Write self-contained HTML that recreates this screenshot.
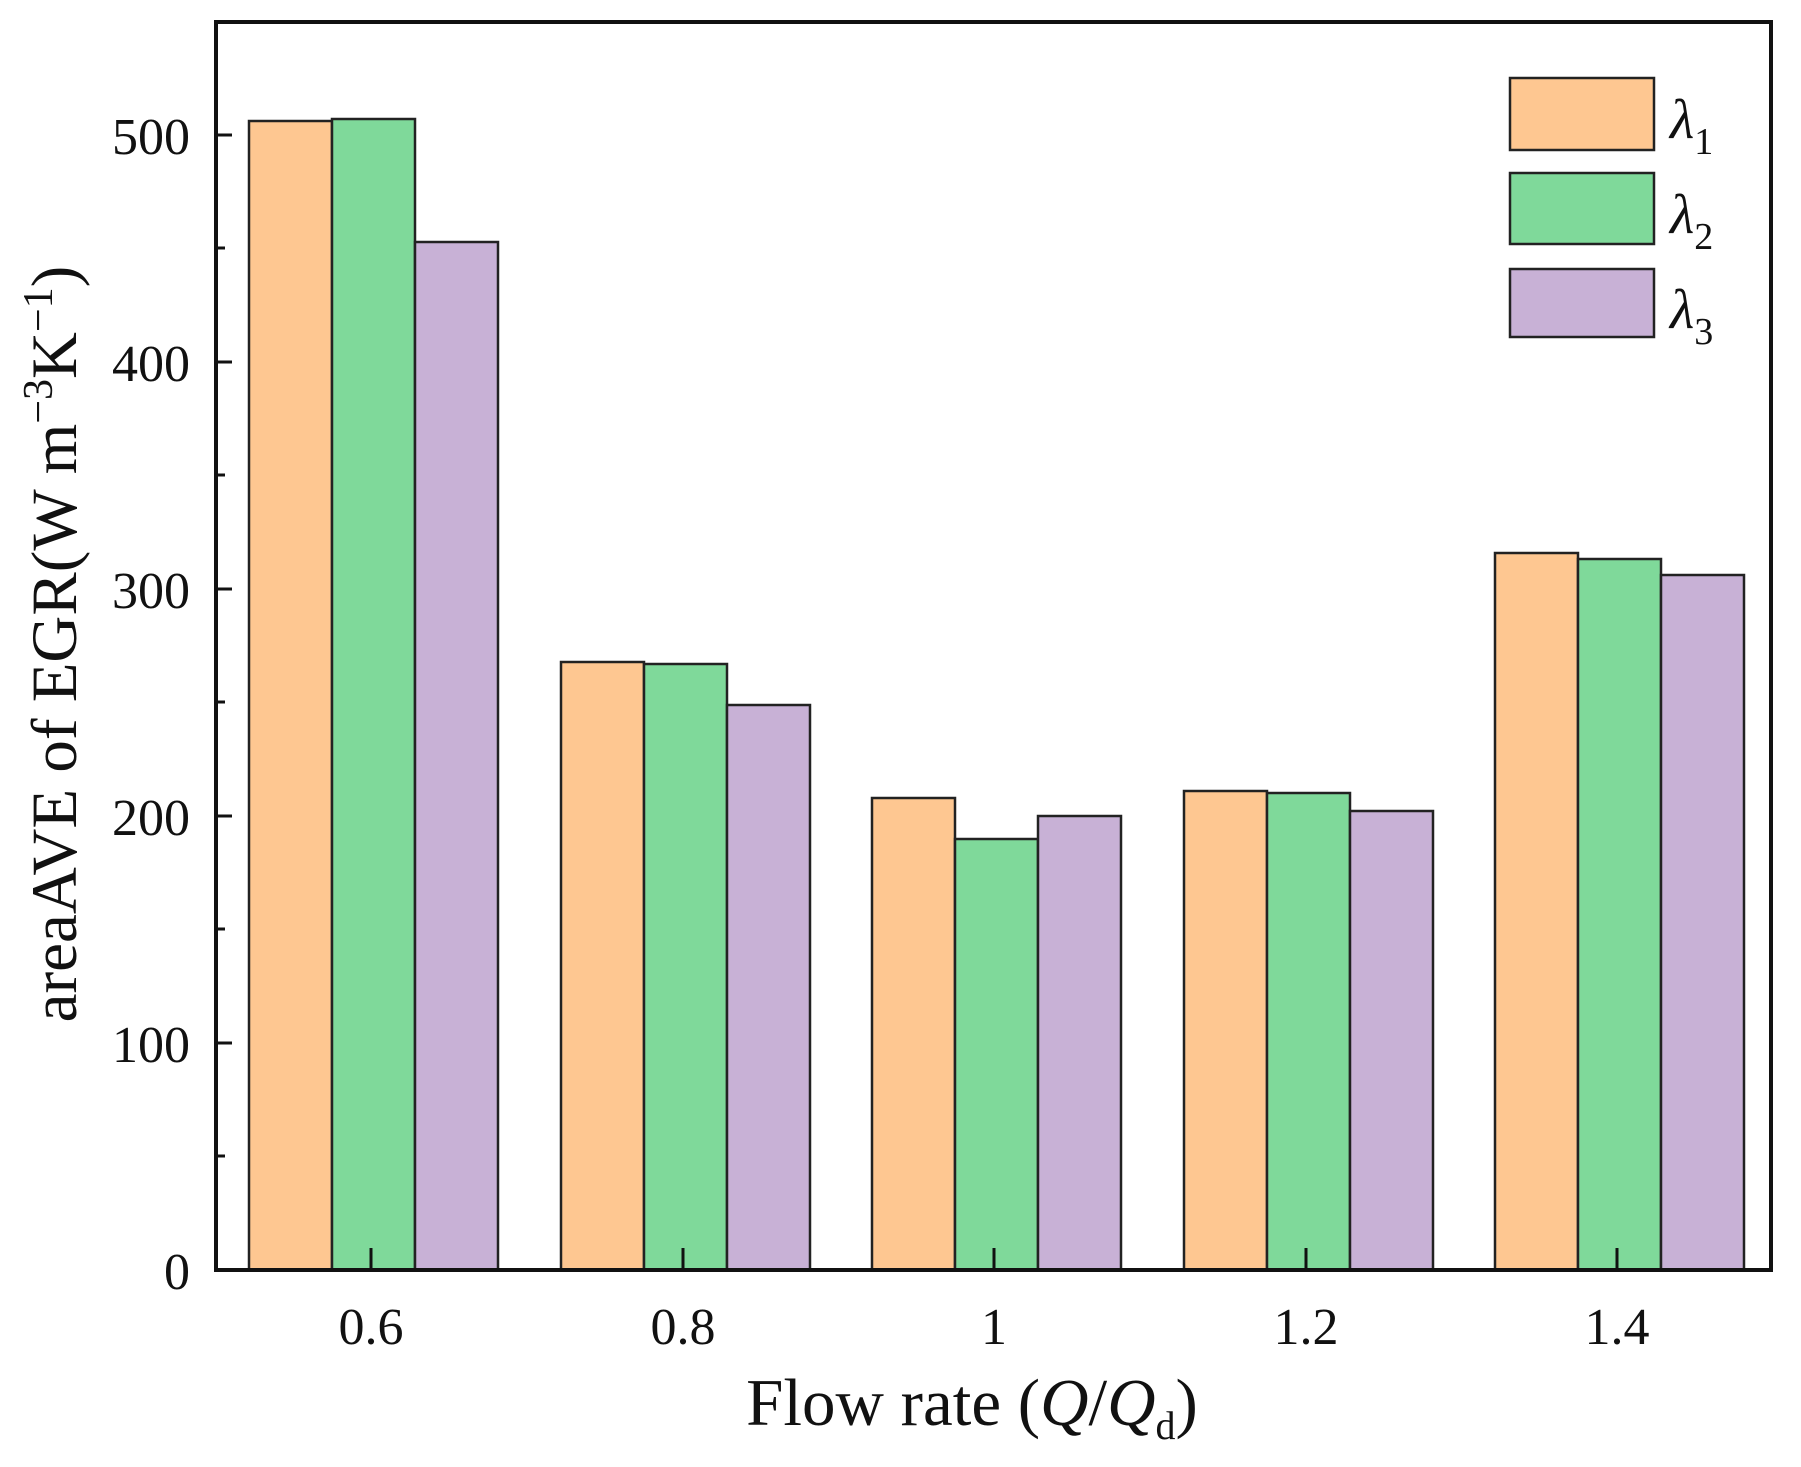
<!DOCTYPE html>
<html><head><style>body{margin:0;background:#fff}</style></head><body>
<svg width="1801" height="1462" xmlns="http://www.w3.org/2000/svg" font-family="Liberation Serif, serif">
<rect width="1801" height="1462" fill="#fff"/>
<g stroke="#222" stroke-width="2.5">
<rect x="249" y="121" width="83" height="1149" fill="#fec791"/>
<rect x="332" y="119" width="83" height="1151" fill="#7fd99a"/>
<rect x="415" y="242" width="83" height="1028" fill="#c8b1d6"/>
<rect x="561" y="662" width="83" height="608" fill="#fec791"/>
<rect x="644" y="664" width="83" height="606" fill="#7fd99a"/>
<rect x="727" y="705" width="83" height="565" fill="#c8b1d6"/>
<rect x="872" y="798" width="83" height="472" fill="#fec791"/>
<rect x="955" y="839" width="83" height="431" fill="#7fd99a"/>
<rect x="1038" y="816" width="83" height="454" fill="#c8b1d6"/>
<rect x="1184" y="791" width="83" height="479" fill="#fec791"/>
<rect x="1267" y="793" width="83" height="477" fill="#7fd99a"/>
<rect x="1350" y="811" width="83" height="459" fill="#c8b1d6"/>
<rect x="1495" y="553" width="83" height="717" fill="#fec791"/>
<rect x="1578" y="559" width="83" height="711" fill="#7fd99a"/>
<rect x="1661" y="575" width="83" height="695" fill="#c8b1d6"/>
<rect x="1510" y="78" width="144" height="72" fill="#fec791"/>
<rect x="1510" y="173" width="144" height="71" fill="#7fd99a"/>
<rect x="1510" y="269" width="144" height="68" fill="#c8b1d6"/>
</g>
<rect x="216" y="22" width="1555" height="1248" fill="none" stroke="#111" stroke-width="4"/>
<g stroke="#111" stroke-width="3">
<line x1="216" y1="1270" x2="232" y2="1270"/><line x1="216" y1="1043" x2="232" y2="1043"/><line x1="216" y1="816" x2="232" y2="816"/><line x1="216" y1="589" x2="232" y2="589"/><line x1="216" y1="362" x2="232" y2="362"/><line x1="216" y1="135" x2="232" y2="135"/>
<line x1="216" y1="1156" x2="225" y2="1156"/><line x1="216" y1="929" x2="225" y2="929"/><line x1="216" y1="702" x2="225" y2="702"/><line x1="216" y1="475" x2="225" y2="475"/><line x1="216" y1="248" x2="225" y2="248"/>
<line x1="371" y1="1270" x2="371" y2="1248"/><line x1="683" y1="1270" x2="683" y2="1248"/><line x1="994" y1="1270" x2="994" y2="1248"/><line x1="1306" y1="1270" x2="1306" y2="1248"/><line x1="1617" y1="1270" x2="1617" y2="1248"/>
</g>
<g font-size="52" text-anchor="end" fill="#111">
<text x="190" y="1289">0</text><text x="190" y="1062">100</text><text x="190" y="835">200</text><text x="190" y="608">300</text><text x="190" y="381">400</text><text x="190" y="154">500</text>
</g>
<g font-size="52" text-anchor="middle" fill="#111">
<text x="371" y="1344">0.6</text><text x="683" y="1344">0.8</text><text x="994" y="1344">1</text><text x="1306" y="1344">1.2</text><text x="1617" y="1344">1.4</text>
</g>
<text x="972" y="1425" font-size="67" text-anchor="middle" fill="#111">Flow rate (<tspan font-style="italic">Q</tspan>/<tspan font-style="italic">Q</tspan><tspan font-size="40" dy="14">d</tspan><tspan dy="-14">)</tspan></text>
<text transform="translate(76,644) rotate(-90)" font-size="65" text-anchor="middle" fill="#111">areaAVE of EGR(W m<tspan font-size="42" dy="-24">−3</tspan><tspan dy="24">K</tspan><tspan font-size="42" dy="-24">−1</tspan><tspan dy="24">)</tspan></text>
<g font-size="56" font-style="italic" fill="#111">
<text x="1670" y="138">λ<tspan font-size="38" font-style="normal" dy="16">1</tspan></text>
<text x="1670" y="233">λ<tspan font-size="38" font-style="normal" dy="16">2</tspan></text>
<text x="1670" y="328">λ<tspan font-size="38" font-style="normal" dy="16">3</tspan></text>
</g>
</svg>
</body></html>
